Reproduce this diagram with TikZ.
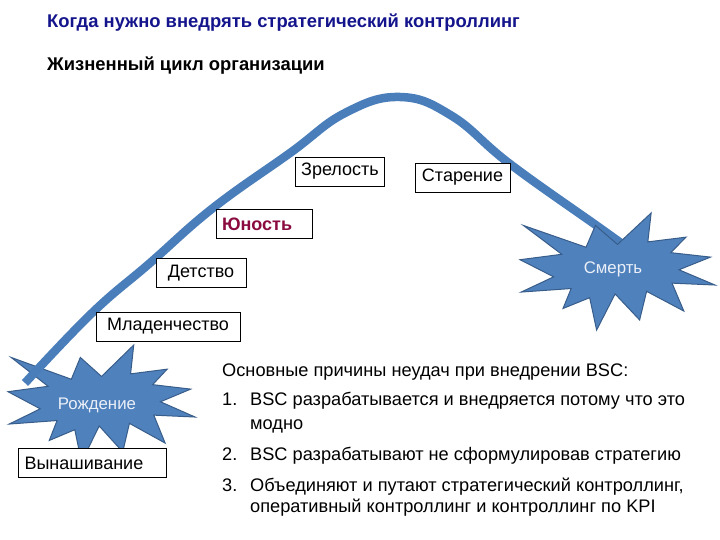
\documentclass[tikz,border=0pt]{standalone}
\usepackage{fontspec}
\setmainfont{Liberation Sans}
\usetikzlibrary{positioning}
\definecolor{sealblue}{RGB}{79,129,189}
\definecolor{sealedge}{RGB}{56,93,138}
\definecolor{curveblue}{RGB}{74,126,187}
\definecolor{titleblue}{RGB}{20,20,140}
\definecolor{youthred}{RGB}{139,10,64}
\definecolor{sealtext}{RGB}{235,240,248}
% explosion outline, 216 x 216 box
\newcommand{\sealpath}{(108,58) -- (145.22,0) -- (141.55,53.25) -- (183.80,44.57)
  -- (167.02,73.15) -- (210.97,81.37) -- (176.07,104.75) -- (216,132.90)
  -- (168.37,129.42) -- (181.45,180.95) -- (140.20,144.57) -- (132.47,197.37)
  -- (105.32,149.35) -- (84.85,216) -- (77.15,156.27) -- (47.62,176.17)
  -- (56.67,139.37) -- (1.35,145.87) -- (37.22,117.75) -- (0,86.15)
  -- (46.27,76.17) -- (3.70,22.95) -- (73.12,63.20) -- (83.52,22.95) -- cycle}

\begin{document}
\begin{tikzpicture}[x=1pt,y=-1pt]
\tikzset{
  stage/.style={draw=black, fill=white, line width=0.8pt, font=\fontsize{18}{21}\selectfont,
    minimum height=29pt, inner xsep=6pt, inner ysep=0pt},
  seal/.style={fill=sealblue, draw=sealedge, line width=1pt},
  sealtxt/.style={text=sealtext, font=\fontsize{16.8}{19}\selectfont},
  listtxt/.style={anchor=base west, inner sep=0pt, font=\fontsize{18.2}{21}\selectfont},
  heading/.style={anchor=base west, inner sep=0pt, font=\bfseries\fontsize{18.4}{21}\selectfont}
}
\useasboundingbox (0,0) rectangle (720,540);

\node[heading, text=titleblue] (title) at (47,28) {Когда нужно внедрять стратегический контроллинг};
\node[heading] (subtitle) at (47,71) {Жизненный цикл организации};

% birth star
\begin{scope}[shift={(8,345)}, xscale=0.866, yscale=0.542]
  \draw[seal] \sealpath;
\end{scope}
\node[sealtxt] (birth) at (97,405) {Рождение};

% life curve
\coordinate (start) at (25,383);
\coordinate (finish) at (625,246);
\draw[curveblue, line width=8.5pt] plot[smooth, tension=0.7] coordinates {
  (start) (92,313) (150,263) (213,208) (290,153) (345,113) (400,97)
  (452,116) (510,164) (600,228) (finish)};

% death star
\begin{scope}[shift={(520,213)}, xscale=0.903, yscale=0.542]
  \draw[seal] \sealpath;
\end{scope}
\node[sealtxt] (death) at (613,269) {Смерть};

% stages
\node[stage, minimum width=89pt] (mature) at (340,171.5) {Зрелость};
\node[stage, minimum width=95pt] (ageing) at (462.5,177.5) {Старение};
\node[stage, text width=84pt, align=left, text=youthred,
  font=\bfseries\fontsize{18}{21}\selectfont] (youth) at (264,224) {Юность};
\node[stage, minimum width=90pt] (child) at (201,273) {Детство};
\node[stage, minimum width=144pt] (infant) at (168,326.5) {Младенчество};
\node[stage, text width=136pt, align=left] (gestation) at (92.5,463) {Вынашивание};

% reasons
\node[listtxt] (reasons) at (222,376) {Основные причины неудач при внедрении BSC:};
\node[listtxt] (n1) at (222,405) {1.};
\node[listtxt] (r1a) at (250,405) {BSC разрабатывается и внедряется потому что это};
\node[listtxt] (r1b) at (250,429) {модно};
\node[listtxt] (n2) at (222,460) {2.};
\node[listtxt] (r2) at (250,460) {BSC разрабатывают не сформулировав стратегию};
\node[listtxt] (n3) at (222,491) {3.};
\node[listtxt] (r3a) at (250,491) {Объединяют и путают стратегический контроллинг,};
\node[listtxt] (r3b) at (250,512) {оперативный контроллинг и контроллинг по KPI};
\end{tikzpicture}
\end{document}
